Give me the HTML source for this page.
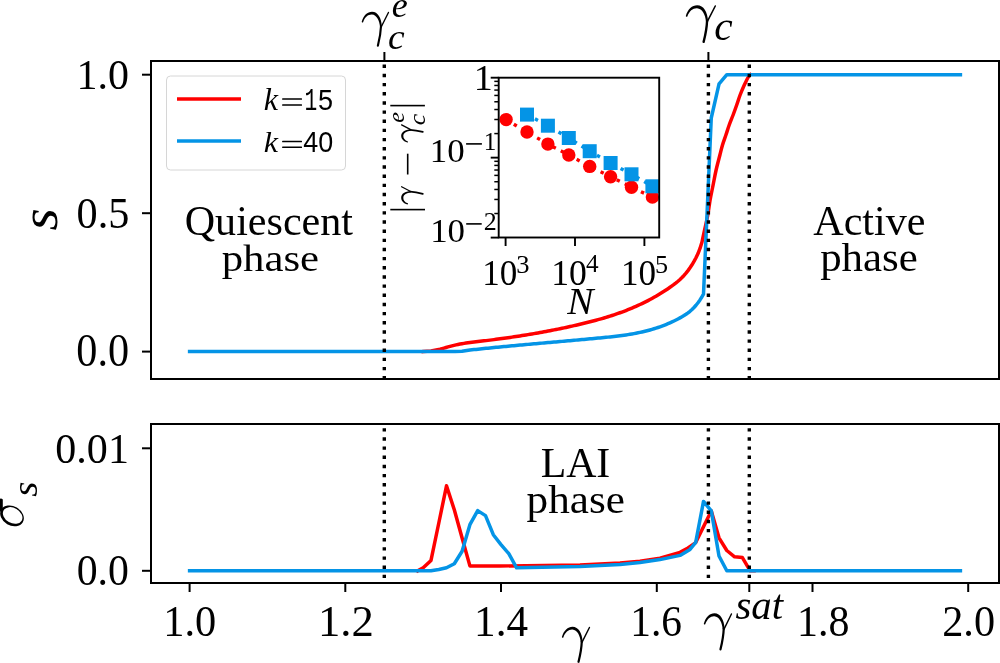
<!DOCTYPE html>
<html><head><meta charset="utf-8"><style>html,body{margin:0;padding:0;background:#fff;overflow:hidden}svg{display:block;will-change:transform}</style></head>
<body><svg width="1000" height="663" viewBox="0 0 1000 663">
<rect x="0" y="0" width="1000" height="663" fill="#fff"/>
<defs><clipPath id="ct"><rect x="151" y="61" width="848" height="318"/></clipPath><clipPath id="cb"><rect x="151" y="424" width="848" height="159"/></clipPath><clipPath id="ci"><rect x="498.7" y="77.7" width="160.5" height="159.8"/></clipPath></defs>
<g clip-path="url(#ct)" fill="none" stroke-width="3.5" stroke-linejoin="round" stroke-linecap="square">
<path d="M423.20,351.60 L431.00,350.90 L440.00,349.18 L442.00,348.65 L444.00,348.09 L446.00,347.51 L448.00,346.93 L450.00,346.36 L452.00,345.83 L454.00,345.33 L456.00,344.87 L458.00,344.45 L460.00,344.07 L462.00,343.71 L464.00,343.39 L466.00,343.08 L468.00,342.80 L470.00,342.53 L472.00,342.28 L474.00,342.04 L476.00,341.80 L478.00,341.57 L480.00,341.34 L482.00,341.10 L484.00,340.86 L486.00,340.62 L488.00,340.38 L490.00,340.13 L492.00,339.87 L494.00,339.62 L496.00,339.36 L498.00,339.09 L500.00,338.82 L502.00,338.55 L504.00,338.27 L506.00,337.99 L508.00,337.71 L510.00,337.42 L512.00,337.13 L514.00,336.83 L516.00,336.53 L518.00,336.22 L520.00,335.91 L522.00,335.60 L524.00,335.28 L526.00,334.95 L528.00,334.62 L530.00,334.29 L532.00,333.95 L534.00,333.61 L536.00,333.26 L538.00,332.91 L540.00,332.55 L542.00,332.19 L544.00,331.82 L546.00,331.44 L548.00,331.07 L550.00,330.68 L552.00,330.29 L554.00,329.90 L556.00,329.50 L558.00,329.09 L560.00,328.68 L562.00,328.27 L564.00,327.84 L566.00,327.42 L568.00,326.98 L570.00,326.54 L572.00,326.10 L574.00,325.65 L576.00,325.19 L578.00,324.73 L580.00,324.26 L582.00,323.78 L584.00,323.30 L586.00,322.81 L588.00,322.31 L590.00,321.81 L592.00,321.29 L594.00,320.77 L596.00,320.23 L598.00,319.68 L600.00,319.13 L602.00,318.56 L604.00,317.97 L606.00,317.37 L608.00,316.76 L610.00,316.14 L612.00,315.49 L614.00,314.84 L616.00,314.16 L618.00,313.47 L620.00,312.76 L622.00,312.03 L624.00,311.28 L626.00,310.51 L628.00,309.72 L630.00,308.91 L632.00,308.08 L634.00,307.23 L636.00,306.35 L638.00,305.45 L640.00,304.53 L642.00,303.58 L644.00,302.60 L646.00,301.60 L648.00,300.57 L650.00,299.52 L652.00,298.43 L654.00,297.32 L656.00,296.18 L658.00,295.01 L660.00,293.81 L662.00,292.57 L664.00,291.31 L666.00,290.01 L668.00,288.68 L670.00,287.32 L672.00,285.91 L674.00,284.45 L676.00,282.91 L678.00,281.27 L680.00,279.49 L682.00,277.56 L684.00,275.45 L686.00,273.14 L688.00,270.61 L690.00,267.83 L692.00,264.78 L694.00,261.43 L696.00,257.75 L698.00,253.54 L700.00,248.42 L702.00,241.99 L702.40,240.00 C702.77,238.33 703.70,234.17 704.60,230.00 C705.50,225.83 706.88,220.00 707.80,215.00 C708.72,210.00 709.22,205.00 710.10,200.00 C710.98,195.00 712.10,190.00 713.10,185.00 C714.10,180.00 714.97,175.00 716.10,170.00 C717.23,165.00 718.83,159.17 719.90,155.00 C720.97,150.83 721.50,148.33 722.50,145.00 C723.50,141.67 724.78,138.33 725.90,135.00 C727.02,131.67 728.00,128.33 729.20,125.00 C730.40,121.67 731.85,118.33 733.10,115.00 C734.35,111.67 735.53,108.33 736.70,105.00 C737.87,101.67 738.83,98.33 740.10,95.00 C741.37,91.67 742.80,88.25 744.30,85.00 C745.80,81.75 748.12,77.22 749.10,75.50 C750.08,73.78 750.02,74.83 750.20,74.70" stroke="#ff0000"/>
<path d="M189.60,351.6 L455,351.6 L462,351.3 L470.00,350.04 L472.00,349.82 L474.00,349.60 L476.00,349.39 L478.00,349.18 L480.00,348.97 L482.00,348.76 L484.00,348.56 L486.00,348.35 L488.00,348.15 L490.00,347.95 L492.00,347.75 L494.00,347.55 L496.00,347.35 L498.00,347.16 L500.00,346.97 L502.00,346.77 L504.00,346.58 L506.00,346.39 L508.00,346.20 L510.00,346.02 L512.00,345.83 L514.00,345.65 L516.00,345.46 L518.00,345.28 L520.00,345.09 L522.00,344.91 L524.00,344.73 L526.00,344.55 L528.00,344.37 L530.00,344.19 L532.00,344.01 L534.00,343.84 L536.00,343.66 L538.00,343.48 L540.00,343.30 L542.00,343.13 L544.00,342.95 L546.00,342.77 L548.00,342.60 L550.00,342.42 L552.00,342.25 L554.00,342.07 L556.00,341.89 L558.00,341.72 L560.00,341.54 L562.00,341.37 L564.00,341.19 L566.00,341.01 L568.00,340.83 L570.00,340.66 L572.00,340.48 L574.00,340.30 L576.00,340.12 L578.00,339.94 L580.00,339.76 L582.00,339.58 L584.00,339.40 L586.00,339.21 L588.00,339.03 L590.00,338.84 L592.00,338.66 L594.00,338.47 L596.00,338.28 L598.00,338.09 L600.00,337.90 L602.00,337.71 L604.00,337.52 L606.00,337.32 L608.00,337.12 L610.00,336.91 L612.00,336.70 L614.00,336.48 L616.00,336.25 L618.00,336.01 L620.00,335.75 L622.00,335.49 L624.00,335.22 L626.00,334.93 L628.00,334.62 L630.00,334.30 L632.00,333.96 L634.00,333.60 L636.00,333.23 L638.00,332.83 L640.00,332.41 L642.00,331.97 L644.00,331.51 L646.00,331.02 L648.00,330.50 L650.00,329.96 L652.00,329.39 L654.00,328.79 L656.00,328.17 L658.00,327.51 L660.00,326.81 L662.00,326.09 L664.00,325.33 L666.00,324.53 L668.00,323.70 L670.00,322.83 L672.00,321.93 L674.00,320.98 L676.00,319.99 L678.00,318.96 L680.00,317.89 L682.00,316.77 L684.00,315.57 L686.00,314.28 L688.00,312.85 L690.00,311.26 L692.00,309.48 L694.00,307.48 L696.00,305.24 L698.00,302.72 L700.00,299.89 L702.00,296.73 L703.50,294.12 L711.26,118 L719.05,83.8 L726.83,74.7 L960.41,74.7" stroke="#0494e6"/>
<line x1="384.3" y1="64.6" x2="384.3" y2="381" stroke="#000" stroke-width="3.4" stroke-dasharray="3.4 5.76" stroke-linecap="butt"/>
<line x1="708.4" y1="64.6" x2="708.4" y2="381" stroke="#000" stroke-width="3.4" stroke-dasharray="3.4 5.76" stroke-linecap="butt"/>
<line x1="749.3" y1="64.6" x2="749.3" y2="381" stroke="#000" stroke-width="3.4" stroke-dasharray="3.4 5.76" stroke-linecap="butt"/>
</g>
<g clip-path="url(#cb)" fill="none" stroke-width="3.5" stroke-linejoin="round" stroke-linecap="square">
<polyline points="417.7,570.8 423.2,567.8 431.0,560.4 438.8,523.0 446.5,485.8 454.3,509.8 462.1,538.0 469.9,565.9 500.0,566.0 580.0,565.0 620.0,563.0 640.0,561.3 660.0,558.2 680.0,552.4 688.0,548.0 695.7,542.6 703.5,526.7 711.3,510.9 719.0,537.8 726.8,550.5 734.6,556.8 742.4,557.6 750.2,570.8 754.1,570.8" stroke="#ff0000"/>
<polyline points="189.6,570.8 431.0,570.8 438.8,569.5 446.5,567.8 454.3,563.7 462.1,551.3 469.9,524.7 477.7,510.6 485.5,515.6 493.3,534.7 501.0,544.6 508.8,553.7 516.6,567.8 580.0,566.5 620.0,564.4 640.0,562.4 660.0,559.6 680.0,555.4 690.0,549.4 695.7,542.4 703.5,501.4 711.3,510.9 719.0,556.0 726.8,570.8 960.4,570.8" stroke="#0494e6"/>
<line x1="384.3" y1="428.14" x2="384.3" y2="590" stroke="#000" stroke-width="3.4" stroke-dasharray="3.4 5.76" stroke-linecap="butt"/>
<line x1="708.4" y1="428.14" x2="708.4" y2="590" stroke="#000" stroke-width="3.4" stroke-dasharray="3.4 5.76" stroke-linecap="butt"/>
<line x1="749.3" y1="428.14" x2="749.3" y2="590" stroke="#000" stroke-width="3.4" stroke-dasharray="3.4 5.76" stroke-linecap="butt"/>
</g>
<g fill="none" stroke="#000" stroke-width="2">
<rect x="151" y="61" width="848" height="318"/>
<rect x="151" y="424" width="848" height="159"/>
<line x1="142" y1="74.7" x2="151" y2="74.7"/>
<line x1="142" y1="213.2" x2="151" y2="213.2"/>
<line x1="142" y1="351.6" x2="151" y2="351.6"/>
<line x1="142" y1="448.3" x2="151" y2="448.3"/>
<line x1="142" y1="570.8" x2="151" y2="570.8"/>
<line x1="384.4" y1="52" x2="384.4" y2="61"/>
<line x1="708.4" y1="52" x2="708.4" y2="61"/>
<line x1="189.6" y1="583" x2="189.6" y2="592"/>
<line x1="345.3" y1="583" x2="345.3" y2="592"/>
<line x1="501.0" y1="583" x2="501.0" y2="592"/>
<line x1="656.8" y1="583" x2="656.8" y2="592"/>
<line x1="812.5" y1="583" x2="812.5" y2="592"/>
<line x1="968.2" y1="583" x2="968.2" y2="592"/>
<line x1="749.3" y1="583" x2="749.3" y2="592"/>
</g>
<rect x="166.5" y="76" width="179" height="94" rx="4" fill="#fff" fill-opacity="0.8" stroke="#d6d6d6" stroke-width="1"/>
<line x1="177" y1="99" x2="241" y2="99" stroke="#ff0000" stroke-width="3.5"/>
<line x1="177" y1="141" x2="241" y2="141" stroke="#0494e6" stroke-width="3.5"/>
<rect x="282.1" y="98.3" width="19.9" height="1.5" rx="0.5" fill="#000"/>
<rect x="282.1" y="104.14999999999999" width="19.9" height="1.5" rx="0.5" fill="#000"/>
<rect x="282.1" y="140.75" width="19.9" height="1.5" rx="0.5" fill="#000"/>
<rect x="282.1" y="146.6" width="19.9" height="1.5" rx="0.5" fill="#000"/>
<rect x="498.7" y="77.7" width="160.5" height="159.8" fill="#fff"/>
<g clip-path="url(#ci)">
<polyline points="506.1,119.6 527.0,132.0 547.9,144.1 568.8,155.0 589.7,166.4 610.6,176.7 631.5,187.2 652.4,197.1" fill="none" stroke="#ff0000" stroke-width="3.4" stroke-dasharray="3.4 5.6" stroke-linecap="butt"/>
<polyline points="527.0,114.6 547.9,125.7 568.8,138.0 589.7,151.2 610.6,163.0 631.5,174.3 652.4,186.3" fill="none" stroke="#0494e6" stroke-width="3.4" stroke-dasharray="3.4 5.6" stroke-linecap="butt"/>
<circle cx="506.1" cy="119.6" r="6.7" fill="#ff0000"/>
<circle cx="527.0" cy="132" r="6.7" fill="#ff0000"/>
<circle cx="547.9" cy="144.1" r="6.7" fill="#ff0000"/>
<circle cx="568.8" cy="155" r="6.7" fill="#ff0000"/>
<circle cx="589.7" cy="166.4" r="6.7" fill="#ff0000"/>
<circle cx="610.6" cy="176.7" r="6.7" fill="#ff0000"/>
<circle cx="631.5" cy="187.2" r="6.7" fill="#ff0000"/>
<circle cx="652.4" cy="197.1" r="6.7" fill="#ff0000"/>
<rect x="520.0" y="107.6" width="14" height="14" fill="#0494e6"/>
<rect x="540.9" y="118.7" width="14" height="14" fill="#0494e6"/>
<rect x="561.8" y="131.0" width="14" height="14" fill="#0494e6"/>
<rect x="582.7" y="144.2" width="14" height="14" fill="#0494e6"/>
<rect x="603.6" y="156.0" width="14" height="14" fill="#0494e6"/>
<rect x="624.5" y="167.3" width="14" height="14" fill="#0494e6"/>
<rect x="645.4" y="179.3" width="14" height="14" fill="#0494e6"/>
</g>
<g fill="none" stroke="#000" stroke-width="1.9">
<rect x="498.7" y="77.7" width="160.5" height="159.8"/>
<line x1="494.3" y1="133.58" x2="498.7" y2="133.58" stroke-width="1.5"/>
<line x1="494.3" y1="119.50" x2="498.7" y2="119.50" stroke-width="1.5"/>
<line x1="494.3" y1="109.52" x2="498.7" y2="109.52" stroke-width="1.5"/>
<line x1="494.3" y1="101.77" x2="498.7" y2="101.77" stroke-width="1.5"/>
<line x1="494.3" y1="95.44" x2="498.7" y2="95.44" stroke-width="1.5"/>
<line x1="494.3" y1="90.08" x2="498.7" y2="90.08" stroke-width="1.5"/>
<line x1="494.3" y1="85.45" x2="498.7" y2="85.45" stroke-width="1.5"/>
<line x1="494.3" y1="81.36" x2="498.7" y2="81.36" stroke-width="1.5"/>
<line x1="494.3" y1="213.53" x2="498.7" y2="213.53" stroke-width="1.5"/>
<line x1="494.3" y1="199.45" x2="498.7" y2="199.45" stroke-width="1.5"/>
<line x1="494.3" y1="189.47" x2="498.7" y2="189.47" stroke-width="1.5"/>
<line x1="494.3" y1="181.72" x2="498.7" y2="181.72" stroke-width="1.5"/>
<line x1="494.3" y1="175.39" x2="498.7" y2="175.39" stroke-width="1.5"/>
<line x1="494.3" y1="170.03" x2="498.7" y2="170.03" stroke-width="1.5"/>
<line x1="494.3" y1="165.40" x2="498.7" y2="165.40" stroke-width="1.5"/>
<line x1="494.3" y1="161.31" x2="498.7" y2="161.31" stroke-width="1.5"/>
<line x1="490.7" y1="77.7" x2="498.7" y2="77.7"/>
<line x1="490.7" y1="157.65" x2="498.7" y2="157.65"/>
<line x1="490.7" y1="237.6" x2="498.7" y2="237.6"/>
<line x1="505.6" y1="237.6" x2="505.6" y2="246"/>
<line x1="575.0" y1="237.6" x2="575.0" y2="246"/>
<line x1="644.4" y1="237.6" x2="644.4" y2="246"/>
</g>
<g fill="#000">
<rect x="466.1" y="143.1" width="15.8" height="1.6"/>
<rect x="466.2" y="223.1" width="15.5" height="1.6"/>
<rect x="390.3" y="104.8" width="34.6" height="1.6"/>
<rect x="390.3" y="208.8" width="34.7" height="1.6"/>
<rect x="406.9" y="153.7" width="1.6" height="20.8"/>
</g>
<g transform="translate(12.0 515.9) rotate(30)"><path fill-rule="evenodd" fill="#000" d="M-12.5,0 A12.5,9.6 0 1,0 12.5,0 A12.5,9.6 0 1,0 -12.5,0 Z M-10.05,-0.7 A10.4,7.6 0 1,0 10.75,-0.7 A10.4,7.6 0 1,0 -10.05,-0.7 Z"/></g>
<path d="M-1,512 L-1,499.5 Q0.9,497.6 2.8,499.5 L2.8,511 Z" fill="#000"/>
<g transform="matrix(0.92881 0 0 0.93067 361.336 11.535)"><path d="M 0.4 10.9 C 2.3 4.2, 6.6 0.3, 11.5 0.3 C 17.9 0.4, 21.5 6.8, 22.2 16.2 L 20.1 16.4 C 19.5 9.6, 16.6 3.6, 11.4 3.2 C 7.4 3.0, 3.8 5.9, 1.9 11.4 C 1.5 12.0, 0.3 11.6, 0.4 10.9 Z" fill="#000"/><path d="M 29.2 1.0 L 21.5 16.3" stroke-width="1.5" fill="none" stroke="#000" stroke-linecap="round"/><path d="M 21.2 15.5 C 20.9 23, 19.5 30, 17.8 36.7" stroke-width="2.3" fill="none" stroke="#000" stroke-linecap="round"/></g>
<g transform="matrix(0.36154 0 0 0.34792 391.715 16.652)"><text x="0" y="0" font-family='"Liberation Serif", serif' font-style="italic" font-size="100">e</text></g>
<g transform="matrix(0.37500 0 0 0.35417 387.875 48.646)"><text x="0" y="0" font-family='"Liberation Serif", serif' font-style="italic" font-size="100">c</text></g>
<g transform="matrix(1.02373 0 0 1.00533 685.388 4.997)"><path d="M 0.4 10.9 C 2.3 4.2, 6.6 0.3, 11.5 0.3 C 17.9 0.4, 21.5 6.8, 22.2 16.2 L 20.1 16.4 C 19.5 9.6, 16.6 3.6, 11.4 3.2 C 7.4 3.0, 3.8 5.9, 1.9 11.4 C 1.5 12.0, 0.3 11.6, 0.4 10.9 Z" fill="#000"/><path d="M 29.2 1.0 L 21.5 16.3" stroke-width="1.5" fill="none" stroke="#000" stroke-linecap="round"/><path d="M 21.2 15.5 C 20.9 23, 19.5 30, 17.8 36.7" stroke-width="2.3" fill="none" stroke="#000" stroke-linecap="round"/></g>
<g transform="matrix(0.41500 0 0 0.40417 714.155 39.996)"><text x="0" y="0" font-family='"Liberation Serif", serif' font-style="italic" font-size="100">c</text></g>
<g transform="matrix(0.41964 0 0 0.43235 76.623 89.335)"><text x="0" y="0" font-family='"Liberation Serif", serif' font-style="normal" font-size="100">1.0</text></g>
<g transform="matrix(0.42222 0 0 0.44776 76.611 228.304)"><text x="0" y="0" font-family='"Liberation Serif", serif' font-style="normal" font-size="100">0.5</text></g>
<g transform="matrix(0.42222 0 0 0.45373 76.311 366.493)"><text x="0" y="0" font-family='"Liberation Serif", serif' font-style="normal" font-size="100">0.0</text></g>
<g transform="matrix(0.53542 0 0 0.57429 57.165 230.574)"><g transform="rotate(-90)"><text x="0" y="0" font-family='"Liberation Serif", serif' font-style="italic" font-size="100">s</text></g></g>
<g transform="matrix(0.42101 0 0 0.41707 184.716 235.010)"><text x="0" y="0" font-family='"Liberation Serif", serif' font-style="normal" font-size="100">Quiescent</text></g>
<g transform="matrix(0.42793 0 0 0.38000 221.644 271.020)"><text x="0" y="0" font-family='"Liberation Serif", serif' font-style="normal" font-size="100">phase</text></g>
<g transform="matrix(0.42061 0 0 0.42836 813.279 235.172)"><text x="0" y="0" font-family='"Liberation Serif", serif' font-style="normal" font-size="100">Active</text></g>
<g transform="matrix(0.42883 0 0 0.39333 820.142 271.440)"><text x="0" y="0" font-family='"Liberation Serif", serif' font-style="normal" font-size="100">phase</text></g>
<g transform="matrix(0.32093 0 0 0.30725 263.737 109.600)"><text x="0" y="0" font-family='"Liberation Serif", serif' font-style="italic" font-size="100">k</text></g>
<g transform="matrix(0.21250 0 0 0.30909 304.412 109.800)"><text x="0" y="0" font-family='"Liberation Mono", monospace' font-style="normal" font-size="100">1</text></g>
<g transform="matrix(0.27021 0 0 0.29143 318.119 109.709)"><text x="0" y="0" font-family='"Liberation Sans", sans-serif' font-style="normal" font-size="100">5</text></g>
<g transform="matrix(0.32093 0 0 0.30145 263.737 152.100)"><text x="0" y="0" font-family='"Liberation Serif", serif' font-style="italic" font-size="100">k</text></g>
<g transform="matrix(0.26952 0 0 0.28873 303.361 152.111)"><text x="0" y="0" font-family='"Liberation Sans", sans-serif' font-style="normal" font-size="100">40</text></g>
<g transform="matrix(0.38000 0 0 0.35303 473.780 89.900)"><text x="0" y="0" font-family='"Liberation Serif", serif' font-style="normal" font-size="100">1</text></g>
<g transform="matrix(0.34943 0 0 0.34559 429.855 162.109)"><text x="0" y="0" font-family='"Liberation Serif", serif' font-style="normal" font-size="100">10</text></g>
<g transform="matrix(0.25143 0 0 0.25152 483.737 150.400)"><text x="0" y="0" font-family='"Liberation Serif", serif' font-style="normal" font-size="100">1</text></g>
<g transform="matrix(0.34943 0 0 0.32647 430.155 241.647)"><text x="0" y="0" font-family='"Liberation Serif", serif' font-style="normal" font-size="100">10</text></g>
<g transform="matrix(0.26000 0 0 0.25077 483.760 229.900)"><text x="0" y="0" font-family='"Liberation Serif", serif' font-style="normal" font-size="100">2</text></g>
<g transform="matrix(0.35057 0 0 0.35882 482.245 284.882)"><text x="0" y="0" font-family='"Liberation Serif", serif' font-style="normal" font-size="100">10</text></g>
<g transform="matrix(0.26585 0 0 0.26061 516.371 272.639)"><text x="0" y="0" font-family='"Liberation Serif", serif' font-style="normal" font-size="100">3</text></g>
<g transform="matrix(0.35632 0 0 0.36471 551.193 285.171)"><text x="0" y="0" font-family='"Liberation Serif", serif' font-style="normal" font-size="100">10</text></g>
<g transform="matrix(0.25217 0 0 0.26000 585.896 272.200)"><text x="0" y="0" font-family='"Liberation Serif", serif' font-style="normal" font-size="100">4</text></g>
<g transform="matrix(0.35057 0 0 0.36471 621.045 285.171)"><text x="0" y="0" font-family='"Liberation Serif", serif' font-style="normal" font-size="100">10</text></g>
<g transform="matrix(0.26250 0 0 0.26061 654.925 272.639)"><text x="0" y="0" font-family='"Liberation Serif", serif' font-style="normal" font-size="100">5</text></g>
<g transform="matrix(0.39306 0 0 0.37692 567.293 314.400)"><text x="0" y="0" font-family='"Liberation Serif", serif' font-style="italic" font-size="100">N</text></g>
<g transform="matrix(0.23542 0 0 0.24103 403.765 122.723)"><g transform="rotate(-90)"><text x="0" y="0" font-family='"Liberation Serif", serif' font-style="italic" font-size="100">e</text></g></g>
<g transform="matrix(0.23542 0 0 0.25750 425.365 125.173)"><g transform="rotate(-90)"><text x="0" y="0" font-family='"Liberation Serif", serif' font-style="italic" font-size="100">c</text></g></g>
<g transform="matrix(0.59474 0 0 0.61356 401.000 142.807)"><g transform="rotate(-90)"><path d="M 0.4 10.9 C 2.3 4.2, 6.6 0.3, 11.5 0.3 C 17.9 0.4, 21.5 6.8, 22.2 16.2 L 19.7 16.4 C 19.1 10.0, 16.4 4.2, 11.4 3.9 C 7.4 3.6, 4.0 6.4, 2.2 11.6 C 1.5 12.0, 0.3 11.6, 0.4 10.9 Z" fill="#000"/><path d="M 29.2 1.0 L 21.5 16.3" stroke-width="2.1" fill="none" stroke="#000" stroke-linecap="round"/><path d="M 21.2 15.5 C 20.9 23, 19.5 30, 17.8 36.7" stroke-width="3.0" fill="none" stroke="#000" stroke-linecap="round"/></g></g>
<g transform="matrix(0.59474 0 0 0.61356 401.000 204.707)"><g transform="rotate(-90)"><path d="M 0.4 10.9 C 2.3 4.2, 6.6 0.3, 11.5 0.3 C 17.9 0.4, 21.5 6.8, 22.2 16.2 L 19.7 16.4 C 19.1 10.0, 16.4 4.2, 11.4 3.9 C 7.4 3.6, 4.0 6.4, 2.2 11.6 C 1.5 12.0, 0.3 11.6, 0.4 10.9 Z" fill="#000"/><path d="M 29.2 1.0 L 21.5 16.3" stroke-width="2.1" fill="none" stroke="#000" stroke-linecap="round"/><path d="M 21.2 15.5 C 20.9 23, 19.5 30, 17.8 36.7" stroke-width="3.0" fill="none" stroke="#000" stroke-linecap="round"/></g></g>
<g transform="matrix(0.42061 0 0 0.42647 55.318 463.147)"><text x="0" y="0" font-family='"Liberation Serif", serif' font-style="normal" font-size="100">0.01</text></g>
<g transform="matrix(0.41795 0 0 0.43433 76.628 585.431)"><text x="0" y="0" font-family='"Liberation Serif", serif' font-style="normal" font-size="100">0.0</text></g>
<g transform="matrix(0.36667 0 0 0.39143 37.033 496.791)"><g transform="rotate(-90)"><text x="0" y="0" font-family='"Liberation Serif", serif' font-style="italic" font-size="100">s</text></g></g>
<g transform="matrix(0.41812 0 0 0.42576 540.646 477.300)"><text x="0" y="0" font-family='"Liberation Serif", serif' font-style="normal" font-size="100">LAI</text></g>
<g transform="matrix(0.43198 0 0 0.39222 526.536 513.163)"><text x="0" y="0" font-family='"Liberation Serif", serif' font-style="normal" font-size="100">phase</text></g>
<g transform="matrix(0.42411 0 0 0.43676 163.183 635.626)"><text x="0" y="0" font-family='"Liberation Serif", serif' font-style="normal" font-size="100">1.0</text></g>
<g transform="matrix(0.44727 0 0 0.44328 317.975 636.257)"><text x="0" y="0" font-family='"Liberation Serif", serif' font-style="normal" font-size="100">1.2</text></g>
<g transform="matrix(0.43158 0 0 0.44328 474.116 636.257)"><text x="0" y="0" font-family='"Liberation Serif", serif' font-style="normal" font-size="100">1.4</text></g>
<g transform="matrix(0.41416 0 0 0.43676 630.273 635.826)"><text x="0" y="0" font-family='"Liberation Serif", serif' font-style="normal" font-size="100">1.6</text></g>
<g transform="matrix(0.41964 0 0 0.43676 797.023 635.926)"><text x="0" y="0" font-family='"Liberation Serif", serif' font-style="normal" font-size="100">1.8</text></g>
<g transform="matrix(0.42308 0 0 0.44328 942.208 635.913)"><text x="0" y="0" font-family='"Liberation Serif", serif' font-style="normal" font-size="100">2.0</text></g>
<g transform="matrix(0.95593 0 0 0.96000 561.522 626.520)"><path d="M 0.4 10.9 C 2.3 4.2, 6.6 0.3, 11.5 0.3 C 17.9 0.4, 21.5 6.8, 22.2 16.2 L 20.1 16.4 C 19.5 9.6, 16.6 3.6, 11.4 3.2 C 7.4 3.0, 3.8 5.9, 1.9 11.4 C 1.5 12.0, 0.3 11.6, 0.4 10.9 Z" fill="#000"/><path d="M 29.2 1.0 L 21.5 16.3" stroke-width="1.5" fill="none" stroke="#000" stroke-linecap="round"/><path d="M 21.2 15.5 C 20.9 23, 19.5 30, 17.8 36.7" stroke-width="2.3" fill="none" stroke="#000" stroke-linecap="round"/></g>
<g transform="matrix(0.95932 0 0 0.98933 703.420 613.005)"><path d="M 0.4 10.9 C 2.3 4.2, 6.6 0.3, 11.5 0.3 C 17.9 0.4, 21.5 6.8, 22.2 16.2 L 20.1 16.4 C 19.5 9.6, 16.6 3.6, 11.4 3.2 C 7.4 3.0, 3.8 5.9, 1.9 11.4 C 1.5 12.0, 0.3 11.6, 0.4 10.9 Z" fill="#000"/><path d="M 29.2 1.0 L 21.5 16.3" stroke-width="1.5" fill="none" stroke="#000" stroke-linecap="round"/><path d="M 21.2 15.5 C 20.9 23, 19.5 30, 17.8 36.7" stroke-width="2.3" fill="none" stroke="#000" stroke-linecap="round"/></g>
<g transform="matrix(0.40847 0 0 0.42632 735.392 619.074)"><text x="0" y="0" font-family='"Liberation Serif", serif' font-style="italic" font-size="100">sat</text></g>
</svg></body></html>
